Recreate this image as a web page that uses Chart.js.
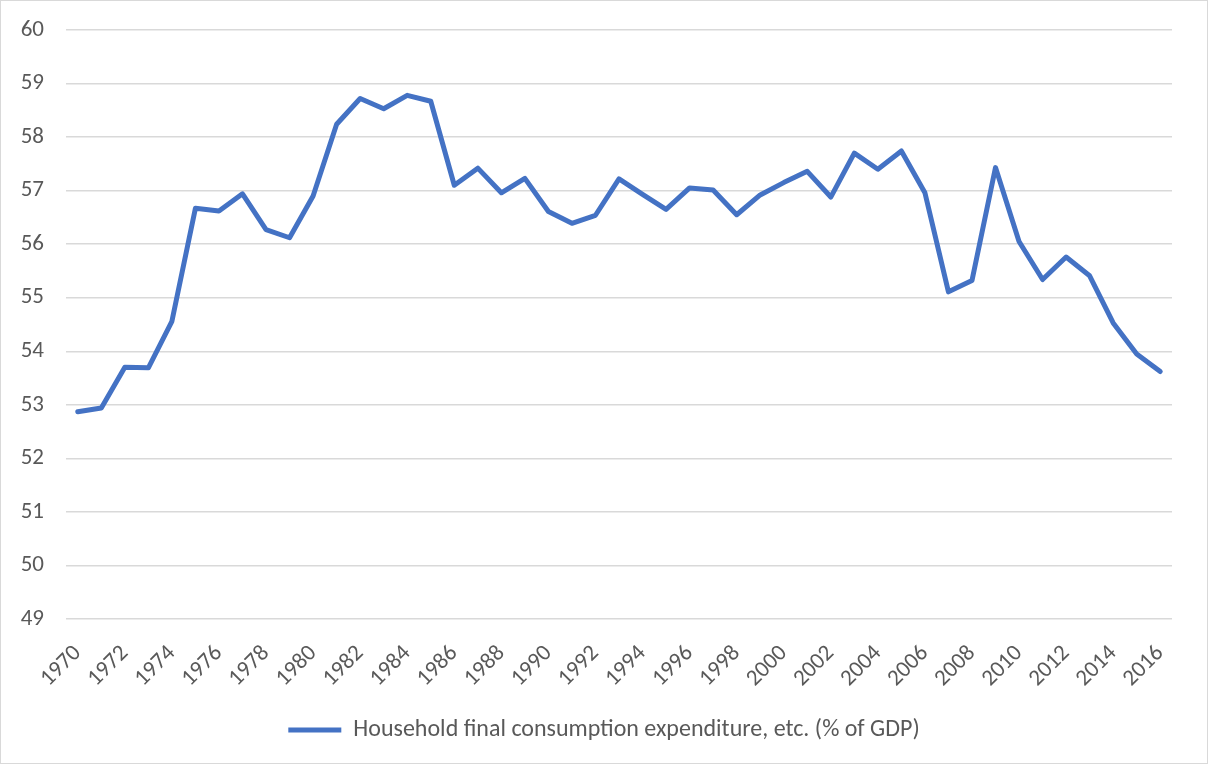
<!DOCTYPE html>
<html>
<head>
<meta charset="utf-8">
<script src="https://cdn.jsdelivr.net/npm/chart.js@4/dist/chart.umd.min.js"></script>
<style>
  html, body { margin: 0; padding: 0; background: #fff; }
  #wrap { width: 1208px; height: 764px; }
</style>
</head>
<body>
<div id="wrap"><canvas id="lineChart" width="1208" height="764"></canvas></div>
<script>
// years on the x axis
const years = [1970, 1971, 1972, 1973, 1974, 1975, 1976, 1977, 1978, 1979,
  1980, 1981, 1982, 1983, 1984, 1985, 1986, 1987, 1988, 1989,
  1990, 1991, 1992, 1993, 1994, 1995, 1996, 1997, 1998, 1999,
  2000, 2001, 2002, 2003, 2004, 2005, 2006, 2007, 2008, 2009,
  2010, 2011, 2012, 2013, 2014, 2015, 2016];

// Household final consumption expenditure, etc. (% of GDP)
const consumption = [52.87, 52.94, 53.70, 53.69, 54.56, 56.67, 56.62, 56.94, 56.27, 56.12,
  56.90, 58.24, 58.72, 58.53, 58.78, 58.67, 57.10, 57.42, 56.96, 57.23,
  56.61, 56.39, 56.54, 57.22, 56.93, 56.65, 57.05, 57.01, 56.55, 56.92,
  57.15, 57.36, 56.88, 57.70, 57.40, 57.74, 56.96, 55.11, 55.32, 57.43,
  56.05, 55.34, 55.76, 55.41, 54.53, 53.95, 53.62];

const seriesName = 'Household final consumption expenditure, etc. (% of GDP)';
const yMin = 49;
const yMax = 60;

const FONT = 'Carlito, Lato, "Open Sans", sans-serif';
const GREY_TEXT = '#595959';

// thin frame round the whole chart, like the office chart border
const frame = {
  id: 'frame',
  afterDraw(chart) {
    const c = chart.ctx;
    c.save();
    c.strokeStyle = '#d9d9d9';
    c.lineWidth = 1;
    c.strokeRect(0.5, 0.5, chart.width - 1, chart.height - 1);
    c.restore();
  }
};

const CHART = document.getElementById('lineChart');
let lineChart = new Chart(CHART, {
  type: 'line',
  data: {
    labels: years,
    datasets: [{
      label: seriesName,
      data: consumption,
      fill: false,
      tension: 0,
      borderColor: '#4472C4',
      backgroundColor: '#4472C4',
      borderWidth: 5,
      borderCapStyle: 'round',
      borderJoinStyle: 'round',
      pointRadius: 0,
      pointStyle: 'line'
    }]
  },
  options: {
    responsive: false,
    animation: false,
    layout: { padding: { top: 0, right: 0, bottom: 12, left: 0 } },
    plugins: {
      tooltip: { enabled: false },
      legend: {
        position: 'bottom',
        labels: {
          usePointStyle: true,
          pointStyleWidth: 53,
          padding: 7,
          color: GREY_TEXT,
          font: { family: FONT, size: 24 }
        }
      }
    },
    scales: {
      x: {
        type: 'category',
        offset: true,
        grid: { display: false, drawTicks: false },
        border: { display: false },
        ticks: {
          autoSkip: false,
          minRotation: 45,
          maxRotation: 45,
          padding: 21,
          color: GREY_TEXT,
          font: { family: FONT, size: 23 },
          callback: function (val, i) { return i % 2 === 0 ? this.getLabelForValue(val) : ''; }
        },
        afterFit(scale) { scale.height = 92; }
      },
      y: {
        min: yMin,
        max: yMax,
        grid: { color: '#d9d9d9', lineWidth: 1.5, drawTicks: false },
        border: { display: false },
        ticks: {
          stepSize: 1,
          padding: 22,
          color: GREY_TEXT,
          font: { family: FONT, size: 23 }
        },
        afterFit(scale) {
          scale.width = 66;
          scale.paddingTop = 30;
          scale.paddingBottom = 10;
        }
      },
      // empty space on the right so the legend stays centred on the whole chart
      yRight: {
        position: 'right',
        min: yMin,
        max: yMax,
        grid: { display: false, drawTicks: false },
        border: { display: false },
        ticks: { display: false },
        afterFit(scale) {
          scale.width = 36;
          scale.paddingTop = 0;
          scale.paddingBottom = 0;
        }
      }
    }
  },
  plugins: [frame]
});
</script>
</body>
</html>
